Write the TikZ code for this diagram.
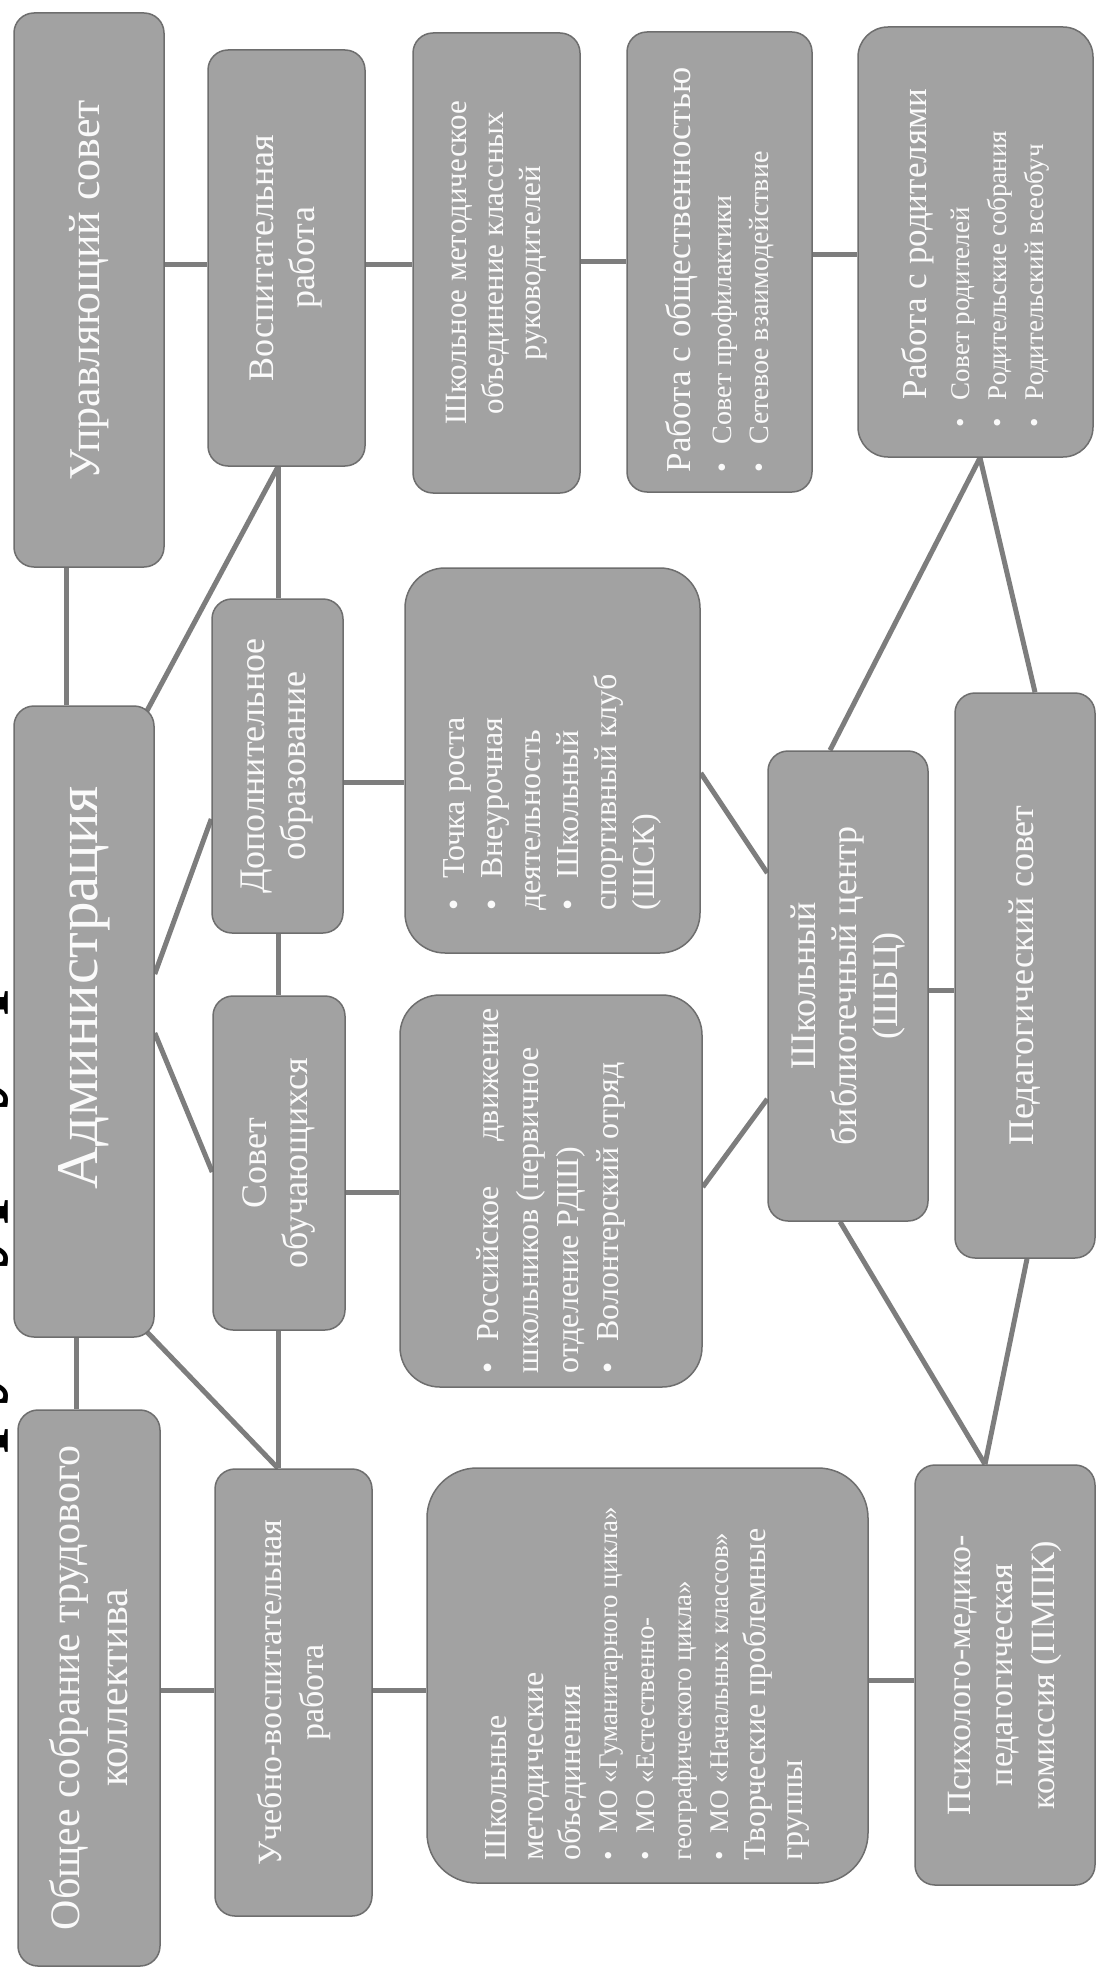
\documentclass[tikz,border=0pt]{standalone}
\usepackage{fontspec}
\setmainfont{Liberation Serif}
\usepackage{graphicx}
\usetikzlibrary{calc,backgrounds}
\definecolor{bxf}{RGB}{162,162,162}
\definecolor{bxd}{RGB}{110,110,110}
\definecolor{cn}{RGB}{125,125,125}
\definecolor{txw}{RGB}{250,250,250}
\newcommand\fs[2]{\fontsize{#1}{#2}\selectfont}
\newcommand\rt[2]{\rotatebox{90}{\parbox{#1}{#2}}}
\newcommand\itm[1]{\par\hangindent=1em\hangafter=1\noindent\makebox[1em][l]{•}#1}
\hyphenpenalty=10000
\hbadness=10000
\begin{document}
\begin{tikzpicture}[x=1pt,y=-1pt,
 box/.style={draw=bxd, fill=bxf, line width=1.5pt, text=txw, inner sep=0pt, rounded corners=20pt},
 conn/.style={draw=cn, line width=5pt},
 ttl/.style={font={\bfseries\fs{88}{96}}, text=black, inner sep=0pt}]
\useasboundingbox (0,0) rectangle (1099,1977);

% column 1
\node[box, minimum width=150pt, minimum height=554pt] (us) at (89,290)
 {\rt{520pt}{\centering\fs{44}{50}Управляющий совет}};
\node[box, minimum width=140pt, minimum height=631pt] (adm) at (84,1021.5)
 {\rt{600pt}{\centering\fs{59}{64}\hspace*{68pt}Администрация}};
\node[box, minimum width=142pt, minimum height=556pt] (obs) at (89,1688)
 {\rt{530pt}{\centering\fs{42}{48}Общее собрание трудового\\коллектива}};

% column 2
\node[box, minimum width=157pt, minimum height=416pt] (vosp) at (286.5,258)
 {\rt{390pt}{\centering\fs{36}{41}Воспитательная\\работа}};
\node[box, minimum width=131pt, minimum height=334pt] (dop) at (277.5,766)
 {\rt{315pt}{\centering\fs{36}{41}Дополнительное\\образование}};
\node[box, minimum width=132pt, minimum height=334pt] (sovet) at (279,1163)
 {\rt{315pt}{\centering\fs{36}{41}Совет\\обучающихся}};
\node[box, minimum width=157pt, minimum height=447pt] (uvr) at (293.5,1692.5)
 {\rt{420pt}{\centering\fs{34}{42}Учебно-воспитательная\\работа}};

% top row
\node[box, minimum width=167pt, minimum height=460pt] (shmokr) at (496.5,263)
 {\rt{430pt}{\centering\fs{31}{37}Школьное методическое\\объединение классных\\руководителей}};
\node[box, minimum width=185pt, minimum height=460pt] (obsch) at (719.5,262)
 {\rt{420pt}{\raggedright\fs{35}{42}Работа с общественностью\par\vspace{4pt}\fs{28}{37}\itm{Совет профилактики}\itm{Сетевое взаимодействие}}};
\node[box, minimum width=235pt, minimum height=430pt, rounded corners=30pt] (rod) at (975.5,242)
 {\rt{370pt}{\raggedright\fs{35}{45}\hspace*{0.8em}Работа с родителями\par\vspace{6pt}\fs{27}{37}\itm{Совет родителей}\itm{Родительские собрания}\itm{Родительский всеобуч}}};

% middle
\node[box, minimum width=295pt, minimum height=385pt, rounded corners=40pt] (tochka) at (552.5,760.5)
 {\rt{300pt}{\raggedright\fs{32}{38}\itm{Точка роста}\itm{Внеурочная\\деятельность}\itm{Школьный\\спортивный клуб\\(ШСК)}}};
\node[box, minimum width=302pt, minimum height=392pt, rounded corners=40pt] (rddm) at (551,1191)
 {\rt{365pt}{\raggedright\fs{32}{40}\itm{Российское\hfill движение\\школьников (первичное\\отделение РДШ)}\itm{Волонтерский отряд}}};
\node[box, minimum width=441pt, minimum height=415pt, rounded corners=50pt] (shmo) at (647.5,1675.5)
 {\rt{370pt}{\raggedright\fs{32}{37}Школьные\\методические\\объединения\par\fs{27}{37}\itm{МО «Гуманитарного цикла»}\itm{МО «Естественно-\\географического цикла»}\itm{МО «Начальных классов»}\par\fs{32}{37}\noindent Творческие проблемные\\группы}};

% right
\node[box, minimum width=160pt, minimum height=470pt] (shbc) at (848,986)
 {\rt{440pt}{\centering\fs{36}{41}Школьный\\библиотечный центр\\(ШБЦ)}};
\node[box, minimum width=140pt, minimum height=565pt] (ped) at (1025,975.5)
 {\rt{540pt}{\centering\fs{36}{41}Педагогический совет}};
\node[box, minimum width=180pt, minimum height=420pt] (pmpk) at (1005,1675)
 {\rt{400pt}{\centering\fs{34}{42}Психолого-медико-\\педагогическая\\комиссия (ПМПК)}};

\begin{scope}[on background layer]
\fill[white] (0,0) rectangle (1099,1977);
\node[ttl, rotate=90, anchor=base west] (title) at (-10,1560) {Структура управления};
\draw[conn] (us.south -| 66,0) -- (adm.north -| 66,0);
\draw[conn] (adm.south -| 76,0) -- (obs.north -| 76,0);
\draw[conn] (us.east |- 0,265) -- (vosp.west |- 0,265);
\draw[conn] (obs.east |- 0,1690) -- (uvr.west |- 0,1690);
\draw[conn] ($(adm.north east)+(-8,6)$) -- (vosp.south -| 278,0);
\draw[conn] (adm.east |- 0,974) -- (dop.west |- 0,819);
\draw[conn] (adm.east |- 0,1033) -- (sovet.west |- 0,1172);
\draw[conn] ($(adm.south east)+(-8,-6)$) -- (uvr.north -| 278,0);
\draw[conn] (vosp.south -| 278,0) -- (dop.north -| 278,0);
\draw[conn] (dop.south -| 278,0) -- (sovet.north -| 278,0);
\draw[conn] (sovet.south -| 278,0) -- (uvr.north -| 278,0);
\draw[conn] (vosp.east |- 0,265) -- (shmokr.west |- 0,265);
\draw[conn] (shmokr.east |- 0,262) -- (obsch.west |- 0,262);
\draw[conn] (obsch.east |- 0,255) -- (rod.west |- 0,255);
\draw[conn] (dop.east |- 0,782) -- (tochka.west |- 0,782);
\draw[conn] (sovet.east |- 0,1192) -- (rddm.west |- 0,1192);
\draw[conn] (uvr.east |- 0,1690) -- (shmo.west |- 0,1690);
\draw[conn] (shmo.east |- 0,1680) -- (pmpk.west |- 0,1680);
\draw[conn] (tochka.east |- 0,773) -- (shbc.west |- 0,873);
\draw[conn] (rddm.east |- 0,1187) -- (shbc.west |- 0,1099);
\draw[conn] (shbc.east |- 0,990) -- (ped.west |- 0,990);
\draw[conn] (rod.south -| 980,0) -- (shbc.north -| 830,0);
\draw[conn] (rod.south -| 980,0) -- (ped.north -| 1035,0);
\draw[conn] (shbc.south -| 840,0) -- (pmpk.north -| 985,0);
\draw[conn] (ped.south -| 1027,0) -- (pmpk.north -| 985,0);
\end{scope}
\end{tikzpicture}
\end{document}
